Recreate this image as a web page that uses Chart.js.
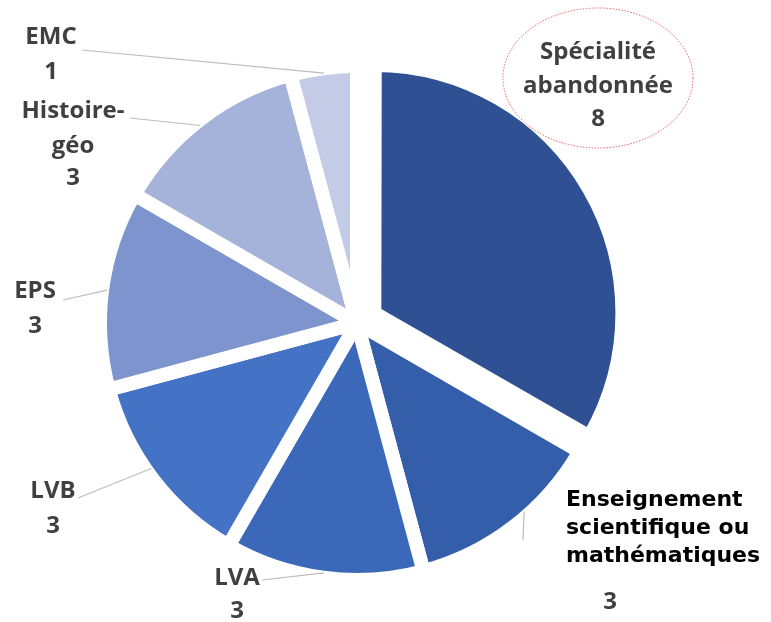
<!DOCTYPE html>
<html lang="fr">
<head>
<meta charset="utf-8">
<title>Spécialité abandonnée</title>
<script src="https://cdn.jsdelivr.net/npm/chart.js@4/dist/chart.umd.min.js"></script>
<style>
  html, body { margin: 0; padding: 0; background: #fff; overflow: hidden; }
  .wrap { position: relative; width: 771px; height: 640px; }
</style>
</head>
<body>
<div class="wrap"><canvas id="pie"></canvas></div>
<script>
const categories = ['Spécialité abandonnée', 'Enseignement scientifique ou mathématiques', 'LVA', 'LVB', 'EPS', 'Histoire-géo', 'EMC'];
const counts = [8, 3, 3, 3, 3, 3, 1];
const sliceColors = ['#2f5193', '#345ea9', '#3b68b9', '#4472c4', '#7d94cf', '#a5b2d9', '#c3cbe6'];

// how each label is broken into lines
const labelLines = [
  ['Spécialité', 'abandonnée'],
  ['Enseignement', 'scientifique ou', 'mathématiques'],
  ['LVA'],
  ['LVB'],
  ['EPS'],
  ['Histoire-', 'géo'],
  ['EMC']
];

const GAP = 14;
const EXPLODED_SCALE = 0.955; // the pulled-out slice is drawn a little smaller
const grayFont = 'bold 24px "Open Sans"';
const blackFont = 'bold 22px "DejaVu Sans"';

// where the labels sit (last y is the value line)
const labelSpots = [
  { x: 598, ys: [52, 86, 119], ring: { x: 598, y: 78, rx: 95, ry: 70 } },
  { x: 566, ys: [500, 528, 556], align: 'left', font: blackFont, color: '#000', valueX: 610, valueY: 602, leader: [523, 540], frac: 0.41 },
  { x: 237, ys: [578, 611], leader: [262, 580], frac: 0.5 },
  { x: 53, ys: [491, 526], leader: [78, 498], frac: 0.55 },
  { x: 35, ys: [291, 326], leader: [63, 300], frac: 0.5 },
  { x: 73, ys: [111, 146, 178], leader: [130, 118], frac: 0.48 },
  { x: 51, ys: [37, 72], leader: [82, 50], frac: 0.5 }
];

const shrinkExploded = {
  id: 'shrinkExploded',
  afterUpdate(chart) {
    const arc = chart.getDatasetMeta(0).data[0];
    if (arc) arc.outerRadius = arc.outerRadius * EXPLODED_SCALE;
  }
};

const calloutPlugin = {
  id: 'callouts',
  afterDatasetsDraw(chart) {
    const { ctx } = chart;
    const meta = chart.getDatasetMeta(0);
    ctx.save();
    meta.data.forEach((arc, i) => {
      const spot = labelSpots[i];
      const { x, y, startAngle, endAngle, outerRadius } = arc.getProps(['x', 'y', 'startAngle', 'endAngle', 'outerRadius'], true);

      if (spot.leader) {
        const a = startAngle + (endAngle - startAngle) * spot.frac;
        const r = outerRadius - GAP / 2 + 2;
        ctx.strokeStyle = '#bcbcbc';
        ctx.lineWidth = 1.2;
        ctx.beginPath();
        ctx.moveTo(spot.leader[0], spot.leader[1]);
        ctx.lineTo(x + Math.cos(a) * r, y + Math.sin(a) * r);
        ctx.stroke();
      }

      if (spot.ring) {
        ctx.strokeStyle = '#e06060';
        ctx.lineWidth = 1;
        ctx.setLineDash([1.5, 1.5]);
        ctx.beginPath();
        ctx.ellipse(spot.ring.x, spot.ring.y, spot.ring.rx, spot.ring.ry, 0, 0, Math.PI * 2);
        ctx.stroke();
        ctx.setLineDash([]);
      }

      const lines = labelLines[i];
      ctx.textBaseline = 'middle';
      ctx.textAlign = spot.align || 'center';
      ctx.font = spot.font || grayFont;
      ctx.fillStyle = spot.color || '#404040';
      lines.forEach((line, k) => ctx.fillText(line, spot.x, spot.ys[k]));

      ctx.textAlign = 'center';
      ctx.font = grayFont;
      ctx.fillStyle = '#404040';
      const vx = spot.valueX !== undefined ? spot.valueX : spot.x;
      const vy = spot.valueY !== undefined ? spot.valueY : spot.ys[lines.length];
      ctx.fillText(String(counts[i]), vx, vy);
    });
    ctx.restore();
  }
};

new Chart(document.getElementById('pie'), {
  type: 'pie',
  data: {
    labels: categories,
    datasets: [{
      data: counts,
      backgroundColor: sliceColors,
      borderColor: '#ffffff',
      borderWidth: GAP,
      offset: [80, 0, 0, 0, 0, 0, 0]
    }]
  },
  options: {
    responsive: true,
    maintainAspectRatio: false,
    animation: false,
    layout: { padding: { left: 53, right: 110, top: 19, bottom: 13 } },
    plugins: {
      legend: { display: false },
      tooltip: { enabled: false }
    }
  },
  plugins: [shrinkExploded, calloutPlugin]
});
</script>
</body>
</html>
